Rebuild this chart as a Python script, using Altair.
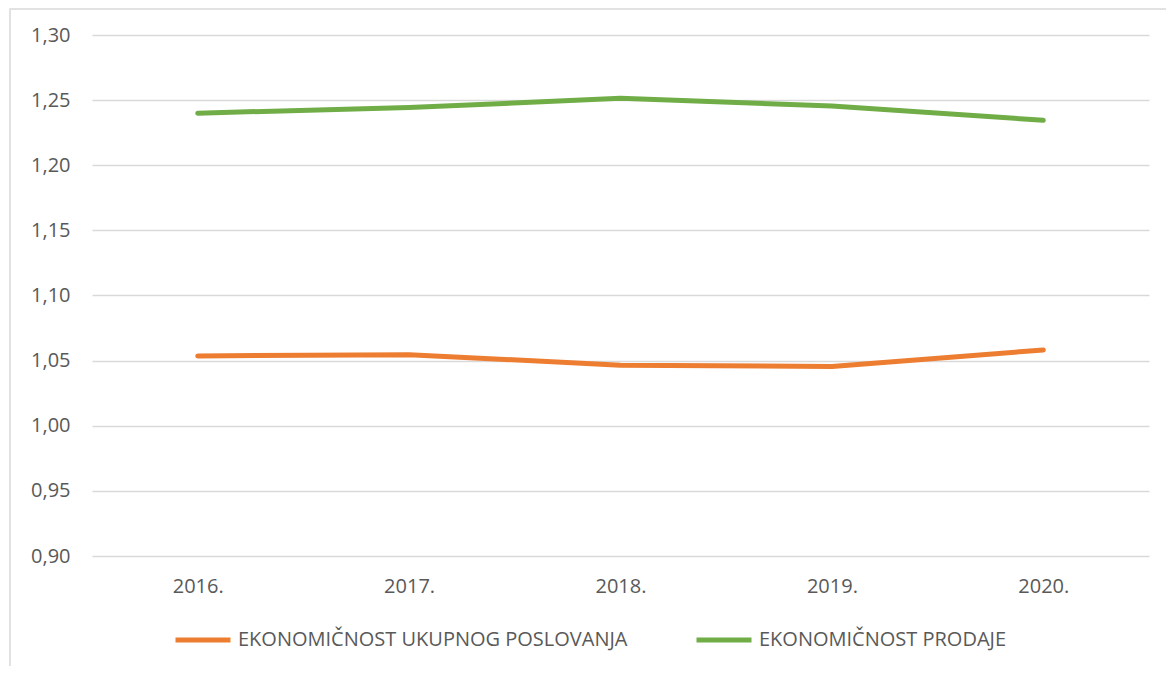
import altair as alt
import pandas as pd

years = ["2016.", "2017.", "2018.", "2019.", "2020."]
series_names = ["EKONOMIČNOST UKUPNOG POSLOVANJA", "EKONOMIČNOST PRODAJE"]
ukupno = [1.0536, 1.0546, 1.0465, 1.0455, 1.0582]
prodaja = [1.2400, 1.2443, 1.2514, 1.2454, 1.2345]
colors = ["#ED7D31", "#70AD47"]

rows = []
for name, vals in zip(series_names, [ukupno, prodaja]):
    for y, v in zip(years, vals):
        rows.append({"godina": y, "serija": name, "vrijednost": v})
df = pd.DataFrame(rows)

W, H = 1057, 521
FONT = "Open Sans"
TXT = "#595959"
FS = 20

frame = alt.Chart(pd.DataFrame({"a": [0]})).mark_rect(
    fillOpacity=0, stroke="#D9D9D9", strokeWidth=1.5, clip=False
).encode(
    x=alt.value(-82), x2=alt.value(W + 100), y=alt.value(-26), y2=alt.value(H + 200)
)

lines = alt.Chart(df).mark_line(strokeWidth=5, strokeCap="round", strokeJoin="round").encode(
    x=alt.X("godina:N", sort=years, title=None,
            scale=alt.Scale(paddingInner=0, paddingOuter=0.5),
            axis=alt.Axis(labelAngle=0, ticks=False, domain=False, grid=False,
                          labelPadding=20, labelFontSize=FS, labelColor=TXT, labelFont=FONT)),
    y=alt.Y("vrijednost:Q", title=None,
            scale=alt.Scale(domain=[0.9, 1.3], nice=False, zero=False),
            axis=alt.Axis(values=[0.9, 0.95, 1.0, 1.05, 1.1, 1.15, 1.2, 1.25, 1.3],
                          labelExpr="replace(format(datum.value, '.2f'), '.', ',')",
                          ticks=False, domain=False, gridColor="#D9D9D9", gridWidth=1.3,
                          labelPadding=22, labelFontSize=FS, labelColor=TXT, labelFont=FONT)),
    color=alt.Color("serija:N", sort=series_names, title=None,
                    scale=alt.Scale(domain=series_names, range=colors),
                    legend=alt.Legend(orient="none", legendX=81, legendY=575, direction="horizontal",
                                      symbolType="stroke", symbolSize=3025, symbolStrokeWidth=5,
                                      labelFontSize=FS, labelColor=TXT, labelFont=FONT,
                                      labelOffset=5, columnPadding=58, labelLimit=700)),
)

chart = alt.layer(frame, lines).properties(
    width=W, height=H,
    autosize=alt.AutoSizeParams(type="none"),
    padding={"left": 84, "top": 27, "right": 17, "bottom": 110},
).configure(background="white").configure_view(strokeWidth=0, stroke="transparent")

chart.save("out.html", embed_options={"renderer": "svg", "actions": False})
